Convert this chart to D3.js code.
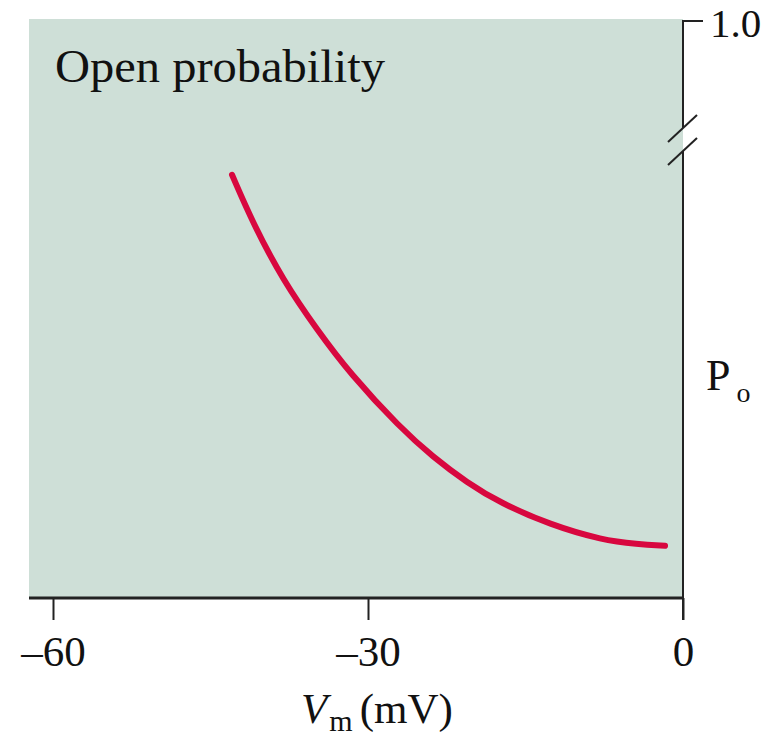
<!DOCTYPE html>
<html>
<head>
<meta charset="utf-8">
<script src="https://cdn.jsdelivr.net/npm/d3@7"></script>
<style>
  html, body { margin: 0; padding: 0; background: #fff; }
  svg { display: block; }
  text { font-family: "Liberation Serif", "DejaVu Serif", serif; fill: #111; }
</style>
</head>
<body>
<svg id="chart" width="766" height="738"></svg>
<script>
// Data
const vm = [-42.95, -40.95, -38.10, -34.86, -31.71, -26.95, -23.81, -20.57, -17.43, -12.67, -7.62, -4.38, -1.71];
const po = [0.462, 0.409, 0.347, 0.293, 0.245, 0.186, 0.154, 0.126, 0.104, 0.080, 0.063, 0.059, 0.057];
const xTicks = [-60, -30, 0];
const xTickLabels = ["\u201360", "\u201330", "0"];
const yTicks = [1.0];
const yTickLabels = ["1.0"];

const svg = d3.select("#chart");

const x = d3.scaleLinear().domain([-60, 0]).range([53, 683]);
// piecewise scale: axis is broken between 0.5 and 1.0
const y = d3.scaleLinear().domain([0, 0.5, 1.0]).range([598, 140, 21]);

// plot background
svg.append("rect")
  .attr("x", 29).attr("y", 19)
  .attr("width", x(0) - 29).attr("height", y(0) - 19)
  .attr("fill", "#cedfd7");

// title
svg.append("text")
  .attr("x", 55).attr("y", 82)
  .style("font-size", "46px")
  .attr("textLength", 330)
  .attr("lengthAdjust", "spacingAndGlyphs")
  .text("Open probability");

// curve
const data = vm.map((v, i) => ({ v, p: po[i] }));
svg.append("path")
  .datum(data)
  .attr("fill", "none")
  .attr("stroke", "#d8073f")
  .attr("stroke-width", 6)
  .attr("stroke-linecap", "round")
  .attr("d", d3.line().x(d => x(d.v)).y(d => y(d.p)).curve(d3.curveBasis));

// bottom axis
const xAxis = d3.axisBottom(x)
  .tickValues(xTicks)
  .tickFormat((d, i) => xTickLabels[i])
  .tickSize(22)
  .tickSizeOuter(0);
const gx = svg.append("g").attr("transform", `translate(0,${y(0)})`).call(xAxis);
gx.select(".domain").remove();
gx.append("line")
  .attr("x1", 29).attr("x2", x(0) + 1)
  .attr("y1", 0).attr("y2", 0)
  .attr("stroke", "#222").attr("stroke-width", 3);
gx.selectAll(".tick line").attr("stroke", "#222").attr("stroke-width", 2);
gx.selectAll(".tick text")
  .attr("y", 68).attr("dy", 0)
  .style("font-size", "43px")
  .attr("fill", "#111")
  .style("font-family", "'Liberation Serif', serif");

// right axis (broken)
const gy = svg.append("g");
const ax = x(0);
const breakTop = 128, breakBot = 151;
gy.append("line").attr("x1", ax).attr("x2", ax)
  .attr("y1", y(1.0) - 1).attr("y2", breakTop)
  .attr("stroke", "#222").attr("stroke-width", 2);
gy.append("line").attr("x1", ax).attr("x2", ax)
  .attr("y1", breakBot).attr("y2", y(0) + 22)
  .attr("stroke", "#222").attr("stroke-width", 2);
// break marks
[breakTop, breakBot].forEach(b => {
  gy.append("line")
    .attr("x1", ax - 15).attr("y1", b + 14)
    .attr("x2", ax + 14).attr("y2", b - 13)
    .attr("stroke", "#222").attr("stroke-width", 2);
});
// top tick
yTicks.forEach((t, i) => {
  gy.append("line")
    .attr("x1", ax).attr("x2", ax + 20)
    .attr("y1", y(t)).attr("y2", y(t))
    .attr("stroke", "#222").attr("stroke-width", 2);
  gy.append("text")
    .attr("x", ax + 27).attr("y", y(t) + 16)
    .style("font-size", "41px")
    .text(yTickLabels[i]);
});

// y-axis label P_o
const pl = svg.append("text").attr("x", 706).attr("y", 390).style("font-size", "44px");
pl.append("tspan").text("P");
pl.append("tspan").attr("dx", 6).attr("dy", 12).style("font-size", "28px").text("o");

// x-axis label V_m (mV)
const xl = svg.append("text").attr("x", 301).attr("y", 723).style("font-size", "43px");
xl.append("tspan").style("font-style", "italic").text("V");
xl.append("tspan").attr("dx", 2).attr("dy", 8).style("font-size", "30px").text("m");
xl.append("tspan").attr("dy", -8).attr("dx", 7).text("(mV)");
</script>
</body>
</html>
